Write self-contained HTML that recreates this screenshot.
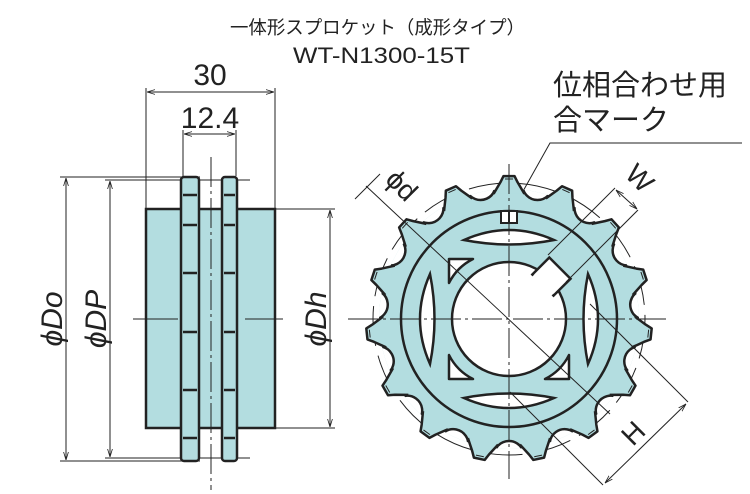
<!DOCTYPE html>
<html><head><meta charset="utf-8"><style>
html,body{margin:0;padding:0;background:#fff;width:750px;height:494px;overflow:hidden}
svg{display:block}
text{font-family:"Liberation Sans","Noto Sans CJK JP",sans-serif;fill:#222}
</style></head><body>
<svg width="750" height="494" viewBox="0 0 750 494">
<defs>
<marker id="a" viewBox="0 0 10 10" refX="10" refY="5" markerWidth="8" markerHeight="8" orient="auto-start-reverse"><path d="M0,2 L10,5 L0,8" fill="none" stroke="#222" stroke-width="1"/></marker>
<clipPath id="dc"><circle r="130"/></clipPath>
<g id="tooth"><path d="M-15.4,-125.1 L-8.6,-136.7 L-5.5,-142.9 L5.5,-142.9 L8.6,-136.7 L15.4,-125.1" fill="#b3dde0" stroke="#222" stroke-width="2.5" stroke-linejoin="round"/><line x1="-4" y1="-140" x2="4" y2="-140" stroke="#222" stroke-width="1"/></g>
<circle id="gap" cx="28.5" cy="-134" r="15" fill="#fff" stroke="#222" stroke-width="2.5"/>
</defs>
<text x="230" y="34" font-size="18.5" textLength="295" lengthAdjust="spacingAndGlyphs">一体形スプロケット（成形タイプ）</text>
<text x="293" y="63" font-size="22" textLength="177" lengthAdjust="spacingAndGlyphs">WT-N1300-15T</text>
<text x="553" y="95" font-size="29">位相合わせ用</text>
<text x="553" y="130" font-size="29">合マーク</text>
<polyline points="742,143 550,143 508,218" fill="none" stroke="#222" stroke-width="1"/>

<!-- left view -->
<g stroke="#222" fill="none" stroke-width="1">
<line x1="146" y1="88" x2="146" y2="208"/><line x1="275" y1="88" x2="275" y2="208"/>
<line x1="147" y1="92" x2="274" y2="92" marker-start="url(#a)" marker-end="url(#a)"/>
<line x1="183" y1="130" x2="183" y2="176"/><line x1="236" y1="130" x2="236" y2="176"/>
<line x1="184" y1="134" x2="235" y2="134" marker-start="url(#a)" marker-end="url(#a)"/>
<line x1="60" y1="177" x2="200" y2="177"/><line x1="60" y1="461" x2="200" y2="461"/>
<line x1="66" y1="178" x2="66" y2="460" marker-start="url(#a)" marker-end="url(#a)"/>
<line x1="105" y1="180" x2="250" y2="180"/><line x1="105" y1="458" x2="250" y2="458"/>
<line x1="110" y1="181" x2="110" y2="457" marker-start="url(#a)" marker-end="url(#a)"/>
<line x1="275" y1="209" x2="335" y2="209"/><line x1="275" y1="428" x2="335" y2="428"/>
<line x1="330" y1="210" x2="330" y2="427" marker-start="url(#a)" marker-end="url(#a)"/>
</g>
<rect x="146" y="209" width="129" height="219" fill="#b3dde0" stroke="#222" stroke-width="2.5"/>
<rect x="181" y="177" width="18" height="284" rx="3" fill="#b3dde0" stroke="#222" stroke-width="2.5"/>
<rect x="222" y="177" width="15" height="284" rx="3" fill="#b3dde0" stroke="#222" stroke-width="2.5"/>
<g stroke="#222" stroke-width="2.5">
<line x1="183" y1="195" x2="197" y2="195"/><line x1="224" y1="195" x2="235" y2="195"/>
<line x1="183" y1="225" x2="197" y2="225"/><line x1="224" y1="225" x2="235" y2="225"/>
<line x1="183" y1="273" x2="197" y2="273"/><line x1="224" y1="273" x2="235" y2="273"/>
<line x1="183" y1="332" x2="197" y2="332"/><line x1="224" y1="332" x2="235" y2="332"/>
<line x1="183" y1="390" x2="197" y2="390"/><line x1="224" y1="390" x2="235" y2="390"/>
<line x1="183" y1="438" x2="197" y2="438"/><line x1="224" y1="438" x2="235" y2="438"/>
</g>
<g stroke="#222" stroke-width="1">
<line x1="211" y1="157" x2="211" y2="490" stroke-dasharray="30,4,3,4"/>
<line x1="133" y1="319" x2="178" y2="319"/><line x1="245" y1="319" x2="283" y2="319"/>
<line x1="348" y1="319" x2="358" y2="319"/>
</g>
<text x="210" y="85" font-size="30" text-anchor="middle">30</text>
<text x="210" y="128" font-size="30" text-anchor="middle">12.4</text>
<text transform="translate(62,319) rotate(-90)" font-size="30" text-anchor="middle" font-style="italic">ϕDo</text>
<text transform="translate(106,319) rotate(-90)" font-size="30" text-anchor="middle" font-style="italic">ϕDP</text>
<text transform="translate(326,319) rotate(-90)" font-size="30" text-anchor="middle" font-style="italic">ϕDh</text>

<!-- gear -->
<g transform="translate(509,319)">
<circle r="130" fill="#b3dde0"/>
<g clip-path="url(#dc)">
<use href="#gap"/><use href="#gap" transform="rotate(24)"/><use href="#gap" transform="rotate(48)"/><use href="#gap" transform="rotate(72)"/><use href="#gap" transform="rotate(96)"/><use href="#gap" transform="rotate(120)"/><use href="#gap" transform="rotate(144)"/><use href="#gap" transform="rotate(168)"/><use href="#gap" transform="rotate(192)"/><use href="#gap" transform="rotate(216)"/><use href="#gap" transform="rotate(240)"/><use href="#gap" transform="rotate(264)"/><use href="#gap" transform="rotate(288)"/><use href="#gap" transform="rotate(312)"/><use href="#gap" transform="rotate(336)"/>
</g>
<circle r="136" fill="none" stroke="#222" stroke-width="1" stroke-dasharray="40,10"/>
<use href="#tooth"/><use href="#tooth" transform="rotate(24)"/><use href="#tooth" transform="rotate(48)"/><use href="#tooth" transform="rotate(72)"/><use href="#tooth" transform="rotate(96)"/><use href="#tooth" transform="rotate(120)"/><use href="#tooth" transform="rotate(144)"/><use href="#tooth" transform="rotate(168)"/><use href="#tooth" transform="rotate(192)"/><use href="#tooth" transform="rotate(216)"/><use href="#tooth" transform="rotate(240)"/><use href="#tooth" transform="rotate(264)"/><use href="#tooth" transform="rotate(288)"/><use href="#tooth" transform="rotate(312)"/><use href="#tooth" transform="rotate(336)"/>
<circle r="108" fill="none" stroke="#222" stroke-width="2.5"/>
<circle r="57" fill="#fff" stroke="#222" stroke-width="2.5"/>
<g transform="rotate(45)">
<rect x="-15" y="-72" width="30" height="24" fill="#fff" stroke="#222" stroke-width="2.5"/>
<rect x="-13.5" y="-58" width="27" height="12" fill="#fff"/>
</g>
<path d="M-45,-79 Q0,-99 45,-79 Q0,-70 -45,-79Z" fill="#fff" stroke="#222" stroke-width="2.5"/>
<path d="M-45,79 Q0,99 45,79 Q0,70 -45,79Z" fill="#fff" stroke="#222" stroke-width="2.5"/>
<path d="M-79,-45 Q-99,0 -79,45 Q-70,0 -79,-45Z" fill="#fff" stroke="#222" stroke-width="2.5"/>
<path d="M79,-45 Q99,0 79,45 Q70,0 79,-45Z" fill="#fff" stroke="#222" stroke-width="2.5"/>
<path d="M-60,-60 L-36,-60 Q-52,-52 -60,-36Z" fill="#fff" stroke="#222" stroke-width="2.5" stroke-linejoin="round"/>
<path d="M-60,60 L-36,60 Q-52,52 -60,36Z" fill="#fff" stroke="#222" stroke-width="2.5" stroke-linejoin="round"/>
<path d="M60,60 L36,60 Q52,52 60,36Z" fill="#fff" stroke="#222" stroke-width="2.5" stroke-linejoin="round"/>
<rect x="-8" y="-108" width="16" height="12" fill="#fff" stroke="#222" stroke-width="2"/>
<line x1="0" y1="-108" x2="0" y2="-96" stroke="#222" stroke-width="2"/>
<g stroke="#222" stroke-width="1">
<line x1="0" y1="-155" x2="0" y2="160" stroke-dasharray="30,4,3,4"/>
<line x1="-160" y1="0" x2="160" y2="0" stroke-dasharray="30,4,3,4"/>
</g>
</g>
<g stroke="#222" stroke-width="1" fill="none">
<line x1="366" y1="186" x2="610" y2="414"/>
<line x1="355" y1="199" x2="380" y2="174"/>
<line x1="548" y1="255" x2="615" y2="188"/>
<line x1="566" y1="282" x2="638" y2="210"/>
<line x1="616" y1="190" x2="637" y2="209" marker-start="url(#a)" marker-end="url(#a)"/>
<line x1="590" y1="304" x2="688" y2="402"/>
<line x1="510" y1="392" x2="603" y2="485"/>
<line x1="686" y1="404" x2="605" y2="483" marker-start="url(#a)" marker-end="url(#a)"/>
</g>
<text transform="translate(395,192) rotate(45)" font-size="28" text-anchor="middle">ϕd</text>
<text transform="translate(633,185) rotate(45)" font-size="28" text-anchor="middle">W</text>
<text transform="translate(640,440) rotate(-45)" font-size="28" text-anchor="middle">H</text>
</svg>
</body></html>
